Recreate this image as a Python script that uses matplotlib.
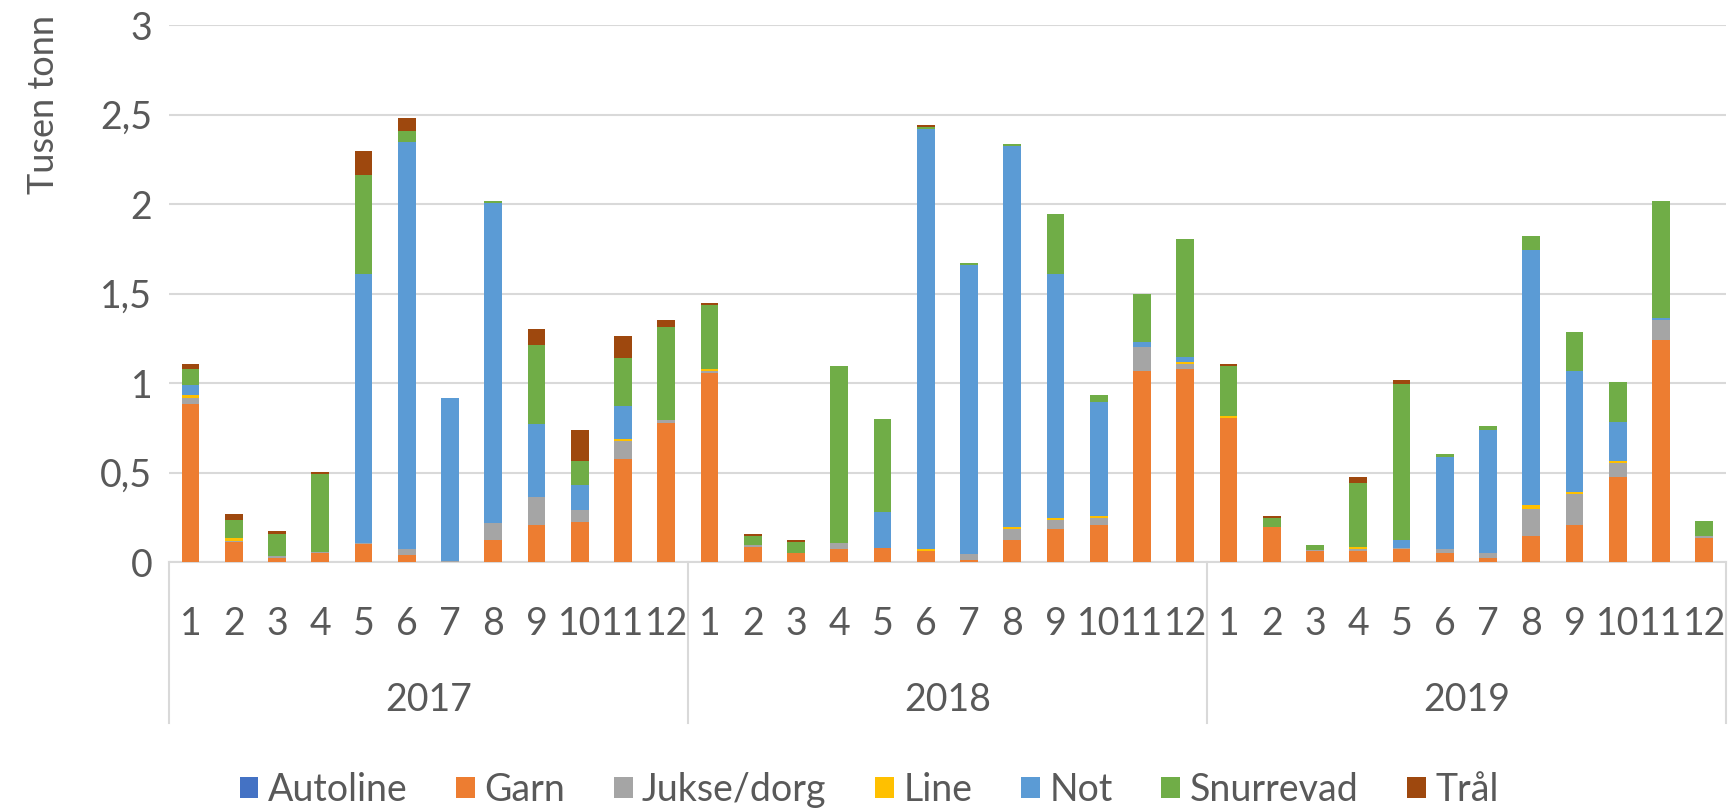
import numpy as np
import matplotlib
matplotlib.use("Agg")
import matplotlib.pyplot as plt
import matplotlib.transforms as mtransforms

plt.rcParams['font.family'] = ['Lato', 'DejaVu Sans']

# ---- data (tusen tonn), months 1-12 for 2017, 2018, 2019 ----
years = ["2017", "2018", "2019"]
months = [str(m) for m in range(1, 13)]
gear = ["Autoline", "Garn", "Jukse/dorg", "Line", "Not", "Snurrevad", "Trål"]

autoline = [0.0] * 36

garn = [0.884, 0.112, 0.025, 0.048, 0.103, 0.037, 0.0, 0.122, 0.209, 0.221, 0.576, 0.775,
        1.058, 0.083, 0.048, 0.072, 0.076, 0.062, 0.012, 0.122, 0.184, 0.209, 1.068, 1.081,
        0.804, 0.194, 0.062, 0.062, 0.074, 0.050, 0.023, 0.147, 0.209, 0.477, 1.242, 0.134]

jukse = [0.035, 0.008, 0.010, 0.010, 0.004, 0.033, 0.006, 0.095, 0.157, 0.070, 0.099, 0.021,
         0.010, 0.014, 0.0, 0.033, 0.004, 0.0, 0.035, 0.060, 0.050, 0.037, 0.136, 0.025,
         0.0, 0.0, 0.006, 0.010, 0.006, 0.023, 0.025, 0.147, 0.171, 0.074, 0.110, 0.012]

line = [0.012, 0.015, 0.0, 0.0, 0.0, 0.0, 0.0, 0.0, 0.0, 0.0, 0.012, 0.0,
        0.012, 0.0, 0.0, 0.0, 0.0, 0.012, 0.0, 0.012, 0.012, 0.010, 0.0, 0.012,
        0.012, 0.0, 0.0, 0.012, 0.0, 0.0, 0.0, 0.025, 0.012, 0.012, 0.0, 0.0]

not_ = [0.060, 0.0, 0.0, 0.0, 1.500, 2.275, 0.913, 1.789, 0.407, 0.138, 0.184, 0.0,
        0.0, 0.0, 0.0, 0.0, 0.200, 2.347, 1.610, 2.128, 1.362, 0.638, 0.023, 0.025,
        0.0, 0.0, 0.0, 0.0, 0.041, 0.514, 0.688, 1.426, 0.676, 0.221, 0.012, 0.0]

snurrevad = [0.089, 0.099, 0.124, 0.434, 0.556, 0.064, 0.0, 0.010, 0.442, 0.134, 0.269, 0.517,
             0.355, 0.050, 0.062, 0.988, 0.517, 0.010, 0.012, 0.012, 0.335, 0.037, 0.269, 0.663,
             0.279, 0.050, 0.029, 0.357, 0.872, 0.014, 0.025, 0.074, 0.219, 0.221, 0.651, 0.085]

traal = [0.025, 0.035, 0.012, 0.010, 0.134, 0.074, 0.0, 0.0, 0.089, 0.174, 0.124, 0.039,
         0.014, 0.012, 0.012, 0.0, 0.0, 0.010, 0.0, 0.0, 0.0, 0.0, 0.0, 0.0,
         0.010, 0.012, 0.0, 0.035, 0.025, 0.0, 0.0, 0.0, 0.0, 0.0, 0.0, 0.0]

series = [autoline, garn, jukse, line, not_, snurrevad, traal]
colors = ["#4472C4", "#ED7D31", "#A5A5A5", "#FFC000", "#5B9BD5", "#70AD47", "#9E480E"]

txt = "#595959"
grid_c = "#d9d9d9"

fig = plt.figure(figsize=(17.31, 8.09), dpi=100)
ax = fig.add_axes([0.0976, 0.3053, 0.8995, 0.6637])

x = np.arange(36)
bottom = np.zeros(36)
handles = []
for name, vals, c in zip(gear, series, colors):
    vals = np.array(vals)
    b = ax.bar(x, vals, 0.41, bottom=bottom, color=c, label=name, zorder=3)
    handles.append(b)
    bottom += vals

ax.set_xlim(-0.5, 35.5)
ax.set_ylim(0, 3)
ax.set_yticks(np.arange(0, 3.01, 0.5))
ax.set_yticklabels([f"{v:g}".replace(".", ",") for v in np.arange(0, 3.01, 0.5)])
ax.yaxis.grid(True, color=grid_c, linewidth=1.5, zorder=0)
ax.tick_params(axis='y', length=0, pad=12, labelsize=27, labelcolor=txt)
ax.set_xticks([])
for s in ["top", "right", "left"]:
    ax.spines[s].set_visible(False)
ax.spines["bottom"].set_color(grid_c)
ax.spines["bottom"].set_linewidth(1.5)

# two-level category axis
trans = mtransforms.blended_transform_factory(ax.transData, ax.transAxes)
for i in range(36):
    ax.text(x[i], -0.1155, months[i % 12], transform=trans, ha='center', va='center',
            fontsize=27, color=txt)
for k, yr in enumerate(years):
    ax.text(k * 12 + 5.5, -0.257, yr, transform=trans, ha='center', va='center',
            fontsize=27, color=txt)
for xb in [-0.5, 11.5, 23.5, 35.5]:
    ax.plot([xb, xb], [0, -0.30], transform=trans, color=grid_c, linewidth=1.5, clip_on=False)

fig.text(44 / 1731, 1 - 105 / 809, "Tusen tonn", rotation=90, ha='center', va='center',
         fontsize=26, color=txt)

fig.legend(handles=handles, labels=gear, loc='center', bbox_to_anchor=(0.502, 0.0235), ncol=7,
           frameon=False, fontsize=27, labelcolor=txt, handlelength=0.5, handleheight=0.5,
           handletextpad=0.25, columnspacing=1.3)

fig.savefig("out.png", dpi=100)
